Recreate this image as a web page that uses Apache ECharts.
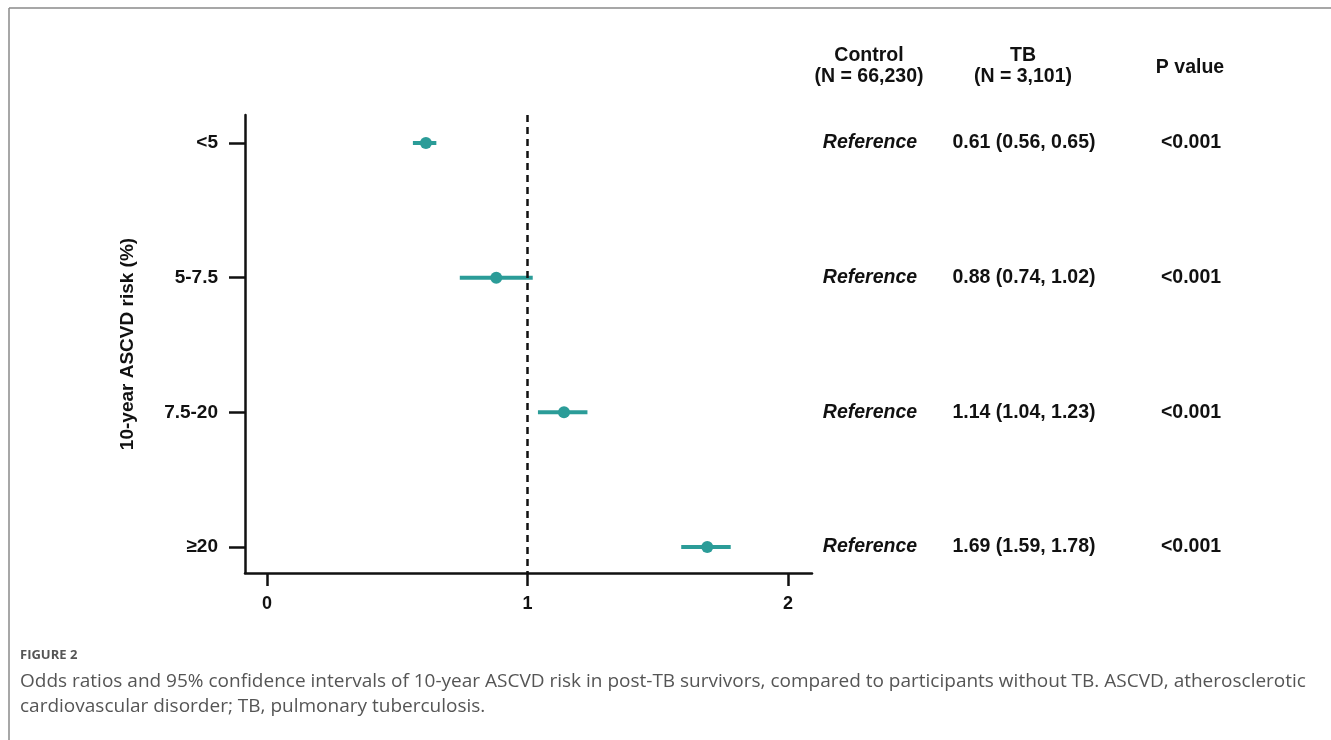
<!DOCTYPE html>
<html>
<head>
<meta charset="utf-8">
<script src="https://cdn.jsdelivr.net/npm/echarts@6/dist/echarts.min.js"></script>
<style>
html,body{margin:0;padding:0;background:#fff;}
#chart{width:1331px;height:740px;}
</style>
</head>
<body>
<div id="chart"></div>
<script>
// ---- data ----
const riskGroups = ['<5', '5-7.5', '7.5-20', '≥20'];
const oddsRatio = [0.61, 0.88, 1.14, 1.69];
const ciLower = [0.56, 0.74, 1.04, 1.59];
const ciUpper = [0.65, 1.02, 1.23, 1.78];
const xTicks = [0, 1, 2];
const controlText = ['Reference', 'Reference', 'Reference', 'Reference'];
const tbText = ['0.61 (0.56, 0.65)', '0.88 (0.74, 1.02)', '1.14 (1.04, 1.23)', '1.69 (1.59, 1.78)'];
const pText = ['<0.001', '<0.001', '<0.001', '<0.001'];
const headers = ['Control\n(N = 66,230)', 'TB\n(N = 3,101)', 'P value'];
const yAxisName = '10-year ASCVD risk (%)';
const captionLabel = 'FIGURE 2';
const captionText = ['Odds ratios and 95% confidence intervals of 10-year ASCVD risk in post-TB survivors, compared to participants without TB. ASCVD, atherosclerotic',
  'cardiovascular disorder; TB, pulmonary tuberculosis.'];

// ---- layout ----
const teal = '#2B9C98';
const ink = '#111';
const font = 'Liberation Sans, Arial, sans-serif';
const fs = 19.5;
const colX = [58, 212, 379]; // table column centers, px inside table grid
const yIdx = riskGroups.map((_, i) => i);

const chart = echarts.init(document.getElementById('chart'));

const forestData = oddsRatio.map((v, i) => [v, i]);
const ciData = ciLower.map((lo, i) => [lo, ciUpper[i], i]);
const cellLabel = (txt, italic) => ({
  show: true, position: [0, 0], align: 'center', verticalAlign: 'middle',
  formatter: txt, fontStyle: italic ? 'italic' : 'normal',
  fontSize: fs, fontWeight: 'bold', color: ink, fontFamily: font
});
const tableData = [];
yIdx.forEach(i => {
  tableData.push({value: [colX[0], i], label: cellLabel(controlText[i], true)});
  tableData.push({value: [colX[1], i], label: cellLabel(tbText[i], false)});
  tableData.push({value: [colX[2], i], label: cellLabel(pText[i], false)});
});

const option = {
  backgroundColor: '#fff',
  animation: false,
  grid: [
    {left: 245, right: 519, top: 115, bottom: 167, containLabel: false},
    {left: 812, right: 0, top: 115, bottom: 167, containLabel: false}
  ],
  xAxis: [{
    type: 'value', gridIndex: 0, min: -0.0845, max: 2.092,
    axisLine: {show: true, onZero: false, lineStyle: {color: ink, width: 2.5}},
    axisTick: {show: true, customValues: xTicks, length: 13, lineStyle: {color: ink, width: 2.5}},
    axisLabel: {show: true, customValues: xTicks, margin: 22, fontSize: 18, fontWeight: 'bold', color: ink, fontFamily: font},
    splitLine: {show: false}
  }, {
    type: 'value', gridIndex: 1, min: 0, max: 519, show: false
  }],
  yAxis: [{
    type: 'value', gridIndex: 0, inverse: true, min: -0.208, max: 3.193,
    name: yAxisName, nameLocation: 'middle', nameGap: 108, nameRotate: 90,
    nameTextStyle: {fontSize: 19, fontWeight: 'bold', color: ink, fontFamily: font},
    axisLine: {show: true, onZero: false, lineStyle: {color: ink, width: 2.5}},
    axisTick: {show: true, customValues: yIdx, length: 16, lineStyle: {color: ink, width: 2.5}},
    axisLabel: {show: true, customValues: yIdx, margin: 27, fontSize: 19, fontWeight: 'bold', color: ink, fontFamily: font,
      formatter: v => riskGroups[Math.round(v)] || ''},
    splitLine: {show: false}
  }, {
    type: 'value', gridIndex: 1, inverse: true, min: -0.208, max: 3.193, show: false
  }],
  graphic: [
    {type: 'line', shape: {x1: 9, y1: 8, x2: 1331, y2: 8}, style: {stroke: '#8a8a8a', lineWidth: 1.5}},
    {type: 'line', shape: {x1: 9, y1: 8, x2: 9, y2: 740}, style: {stroke: '#8a8a8a', lineWidth: 1.5}},
    {type: 'text', x: 869, y: 66, style: {text: headers[0], fill: ink, font: 'bold ' + fs + 'px ' + font, align: 'center', verticalAlign: 'middle', lineHeight: 21}},
    {type: 'text', x: 1023, y: 66, style: {text: headers[1], fill: ink, font: 'bold ' + fs + 'px ' + font, align: 'center', verticalAlign: 'middle', lineHeight: 21}},
    {type: 'text', x: 1190, y: 68, style: {text: headers[2], fill: ink, font: 'bold ' + fs + 'px ' + font, align: 'center', verticalAlign: 'middle'}},
    {type: 'text', x: 20, y: 655, style: {text: captionLabel, fill: '#555', font: 'bold 13px "Open Sans", sans-serif', verticalAlign: 'middle'}},
    {type: 'text', x: 20, y: 682, style: {text: captionText[0], fill: '#555', font: '19px "Open Sans", sans-serif', verticalAlign: 'middle'}},
    {type: 'text', x: 20, y: 707, style: {text: captionText[1], fill: '#555', font: '19px "Open Sans", sans-serif', verticalAlign: 'middle'}}
  ],
  series: [
    {
      type: 'custom', xAxisIndex: 0, yAxisIndex: 0, data: ciData, z: 3,
      renderItem: (params, api) => {
        const a = api.coord([api.value(0), api.value(2)]);
        const b = api.coord([api.value(1), api.value(2)]);
        return {type: 'line', shape: {x1: a[0], y1: a[1], x2: b[0], y2: b[1]}, style: {stroke: teal, lineWidth: 4}};
      },
      encode: {x: [0, 1], y: 2}
    },
    {
      type: 'scatter', xAxisIndex: 0, yAxisIndex: 0, data: forestData, symbolSize: 12, z: 4,
      itemStyle: {color: teal, opacity: 1},
      markLine: {
        silent: true, symbol: 'none', label: {show: false},
        lineStyle: {color: ink, width: 2.5, type: [7, 5]},
        data: [{xAxis: 1}]
      }
    },
    {
      type: 'scatter', xAxisIndex: 1, yAxisIndex: 1, data: tableData, symbolSize: 0, silent: true,
      itemStyle: {opacity: 1}
    }
  ]
};
chart.setOption(option);
</script>
</body>
</html>
